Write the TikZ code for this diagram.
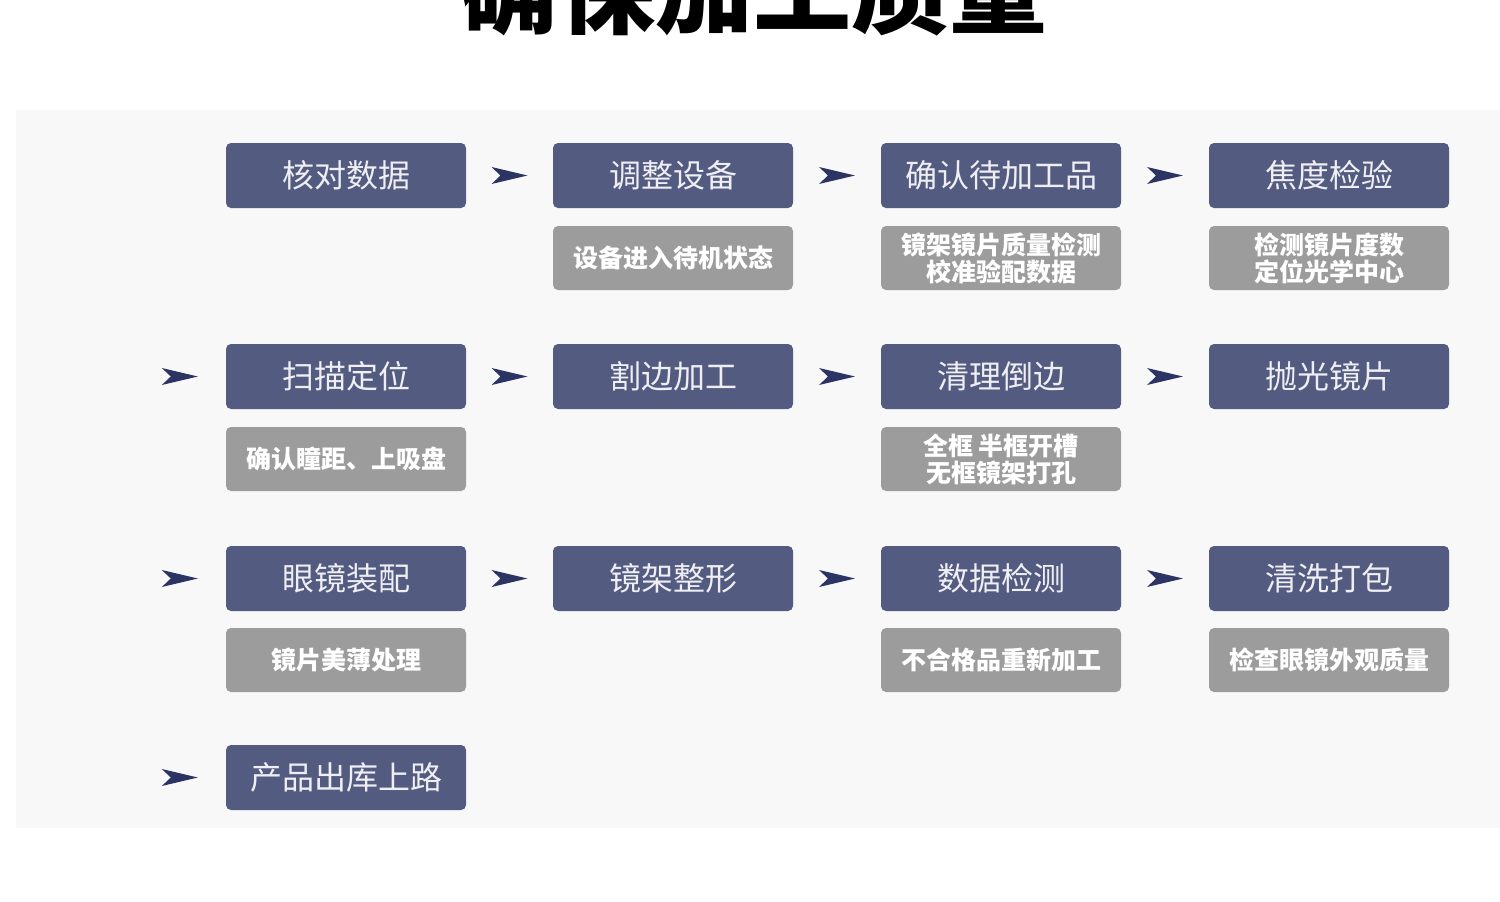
\documentclass[tikz,border=0pt]{standalone}
\usepackage{fontspec}
\newfontfamily\cjk{Noto Sans CJK SC}
\newfontfamily\cjkbold{Noto Sans CJK SC}[BoldFont={* Bold}]
\usetikzlibrary{calc}
\definecolor{panelbg}{HTML}{F8F8F9}
\definecolor{darkbox}{HTML}{535C80}
\definecolor{graybox}{HTML}{9C9C9C}
\definecolor{arrowc}{HTML}{2B3463}
\definecolor{lighttext}{HTML}{EEEEF3}
\tikzset{
  x=1pt, y=-1pt,
  stepbox/.style={fill=darkbox, rounded corners=5pt, minimum width=240pt, minimum height=65pt,
    inner sep=0pt, text=lighttext, font=\cjk\fontsize{32}{34}\selectfont, align=center},
  notebox/.style={fill=graybox, rounded corners=5pt, minimum width=240pt, minimum height=64pt,
    inner sep=0pt, text=white, font=\cjk\bfseries\fontsize{25}{27}\selectfont, align=center},
  arrowhead/.pic={\fill[arrowc] (18,0) -- (-18,-8.5) -- (-9,0) -- (-18,8.5) -- cycle;}
}
\begin{document}
\begin{tikzpicture}
\useasboundingbox (0,0) rectangle (1500,902);
\fill[white] (0,0) rectangle (1500,902);
\fill[panelbg] (16,110) rectangle (1500,828);
\node[anchor=base, font=\cjk\bfseries\fontsize{98}{98}\selectfont, text=black, inner sep=0pt] (title) at (753,27) {确保加工质量};
% row 1
\node[stepbox] (d11) at (346,175.5) {核对数据};
\node[stepbox] (d12) at (673,175.5) {调整设备};
\node[stepbox] (d13) at (1001,175.5) {确认待加工品};
\node[stepbox] (d14) at (1329,175.5) {焦度检验};
\node[notebox] (g12) at (673,258) {设备进入待机状态};
\node[notebox] (g13) at (1001,258) {镜架镜片质量检测\\校准验配数据};
\node[notebox] (g14) at (1329,258) {检测镜片度数\\定位光学中心};
% row 2
\node[stepbox] (d21) at (346,376.5) {扫描定位};
\node[stepbox] (d22) at (673,376.5) {割边加工};
\node[stepbox] (d23) at (1001,376.5) {清理倒边};
\node[stepbox] (d24) at (1329,376.5) {抛光镜片};
\node[notebox] (g21) at (346,459) {确认瞳距、上吸盘};
\node[notebox] (g23) at (1001,459) {全框 半框开槽\\无框镜架打孔};
% row 3
\node[stepbox] (d31) at (346,578.5) {眼镜装配};
\node[stepbox] (d32) at (673,578.5) {镜架整形};
\node[stepbox] (d33) at (1001,578.5) {数据检测};
\node[stepbox] (d34) at (1329,578.5) {清洗打包};
\node[notebox] (g31) at (346,660) {镜片美薄处理};
\node[notebox] (g33) at (1001,660) {不合格品重新加工};
\node[notebox] (g34) at (1329,660) {检查眼镜外观质量};
% row 4
\node[stepbox] (d41) at (346,777.5) {产品出库上路};
% arrows
\foreach \r in {1,2,3}{
  \pic at ($(d\r1.east)!0.5!(d\r2.west)$) {arrowhead};
  \pic at ($(d\r2.east)!0.5!(d\r3.west)$) {arrowhead};
  \pic at ($(d\r3.east)!0.5!(d\r4.west)$) {arrowhead};
}
\foreach \r in {2,3,4}{
  \pic at ([xshift=-46pt]d\r1.west) {arrowhead};
}
\end{tikzpicture}
\end{document}
